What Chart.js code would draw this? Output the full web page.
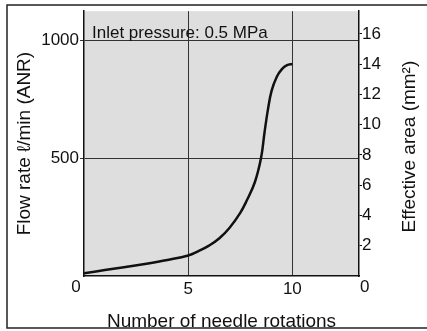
<!DOCTYPE html>
<html>
<head>
<meta charset="utf-8">
<script src="https://cdn.jsdelivr.net/npm/chart.js@4/dist/chart.umd.min.js"></script>
<style>
  html, body { margin: 0; padding: 0; background: #fff; }
  #wrap { width: 427px; height: 331px; position: relative; }
</style>
</head>
<body>
<div id="wrap"><canvas id="flowChart"></canvas></div>
<script>
// values
const rotations = [0, 1, 2, 3, 4, 5, 5.5, 6, 6.5, 7, 7.5, 7.8, 8.2, 8.5, 8.66, 8.82, 9, 9.25, 9.5, 9.75, 10];
const flowRate = [12, 25, 38, 52, 68, 87, 106, 129, 160, 206, 268, 318, 398, 502, 606, 702, 785, 845, 878, 895, 900];

const xTicks = [0, 5, 10];
const flowTicks = [500, 1000];
const areaTicks = [2, 4, 6, 8, 10, 12, 14, 16];

const FONT = 'Liberation Sans, Arial, sans-serif';
const ink = '#111';
const areaTitle = 'Effective area (mm²)';

// grey plot box, outer frame, the note text, right title and the two "0" labels
const decorations = {
  id: 'decorations',
  beforeDraw(chart) {
    const { ctx, chartArea: a } = chart;
    ctx.save();
    ctx.fillStyle = '#dedede';
    ctx.fillRect(a.left, a.top, a.right - a.left, a.bottom - a.top);
    ctx.restore();
  },
  afterDraw(chart) {
    const { ctx, chartArea: a, scales } = chart;
    ctx.save();
    // outer frame
    ctx.strokeStyle = '#222';
    ctx.lineWidth = 1.5;
    ctx.beginPath();
    ctx.moveTo(chart.width, 5);
    ctx.lineTo(7, 5);
    ctx.lineTo(7, chart.height - 3);
    ctx.lineTo(chart.width, chart.height - 3);
    ctx.stroke();

    ctx.fillStyle = ink;
    ctx.font = '17px ' + FONT;
    ctx.textBaseline = 'top';
    ctx.textAlign = 'center';
    const y0 = scales.y.getPixelForValue(0) + 3;
    ctx.fillText('0', scales.x.getPixelForValue(0) - 8, y0);
    ctx.textAlign = 'left';
    ctx.fillText('0', a.right + 1, y0);

    // inlet pressure note sitting on the 1000 line
    ctx.font = '17px ' + FONT;
    ctx.textBaseline = 'alphabetic';
    ctx.fillText('Inlet pressure: 0.5 MPa', a.left + 8, scales.y.getPixelForValue(1000) - 2);

    // right axis title, read bottom to top like the left one
    ctx.font = '19px ' + FONT;
    ctx.textAlign = 'center';
    ctx.textBaseline = 'middle';
    ctx.translate(scales.area.right - 17, (a.top + a.bottom) / 2 + 3);
    ctx.rotate(-Math.PI / 2);
    ctx.fillText(areaTitle, 0, 0);
    ctx.restore();
  }
};

function fixedTicks(list) {
  return function (scale) {
    scale.ticks = list.map(v => ({ value: v }));
  };
}

new Chart(document.getElementById('flowChart'), {
  type: 'line',
  data: {
    datasets: [{
      data: rotations.map((r, i) => ({ x: r, y: flowRate[i] })),
      borderColor: ink,
      borderWidth: 2.5,
      pointRadius: 0,
      fill: false,
      tension: 0.4,
      yAxisID: 'y'
    }]
  },
  options: {
    responsive: true,
    maintainAspectRatio: false,
    animation: false,
    layout: { padding: { top: 5, left: 0, right: 0, bottom: 0 } },
    plugins: { legend: { display: false }, tooltip: { enabled: false } },
    scales: {
      x: {
        type: 'linear',
        min: 0,
        max: 13.2,
        afterBuildTicks: fixedTicks(xTicks),
        afterFit(scale) { scale.height = 55; },
        border: { color: ink, width: 1.5 },
        grid: {
          drawTicks: false,
          color: ctx => ctx.tick && ctx.tick.value > 0 ? '#333' : 'rgba(0,0,0,0)',
          lineWidth: 1
        },
        ticks: {
          color: ink,
          padding: 3,
          maxRotation: 0,
          font: { family: FONT, size: 17 },
          callback: v => v === 0 ? '' : String(v)
        },
        title: {
          display: true,
          text: 'Number of needle rotations',
          color: ink,
          font: { family: FONT, size: 19, lineHeight: 1 },
          padding: { top: 0, bottom: 0 }
        }
      },
      y: {
        position: 'left',
        min: 0,
        max: 1124,
        afterBuildTicks: fixedTicks(flowTicks),
        afterFit(scale) { scale.width = 84; },
        border: { color: ink, width: 1.5 },
        grid: { color: '#333', lineWidth: 1, tickLength: 4 },
        ticks: {
          color: ink,
          padding: 1,
          font: { family: FONT, size: 17 },
          callback: v => String(v)
        },
        title: {
          display: true,
          text: 'Flow rate ℓ/min (ANR)',
          color: ink,
          font: { family: FONT, size: 19, lineHeight: 1 },
          padding: { top: 15, bottom: 0 }
        }
      },
      area: {
        position: 'right',
        min: 0,
        max: 17.5,
        afterBuildTicks: fixedTicks(areaTicks),
        afterFit(scale) { scale.width = 68; },
        border: { color: ink, width: 1.5 },
        grid: { drawOnChartArea: false, color: ink, tickLength: 3 },
        ticks: {
          color: ink,
          padding: 0,
          font: { family: FONT, size: 17 },
          callback: v => String(v)
        }
      }
    }
  },
  plugins: [decorations]
});
</script>
</body>
</html>
